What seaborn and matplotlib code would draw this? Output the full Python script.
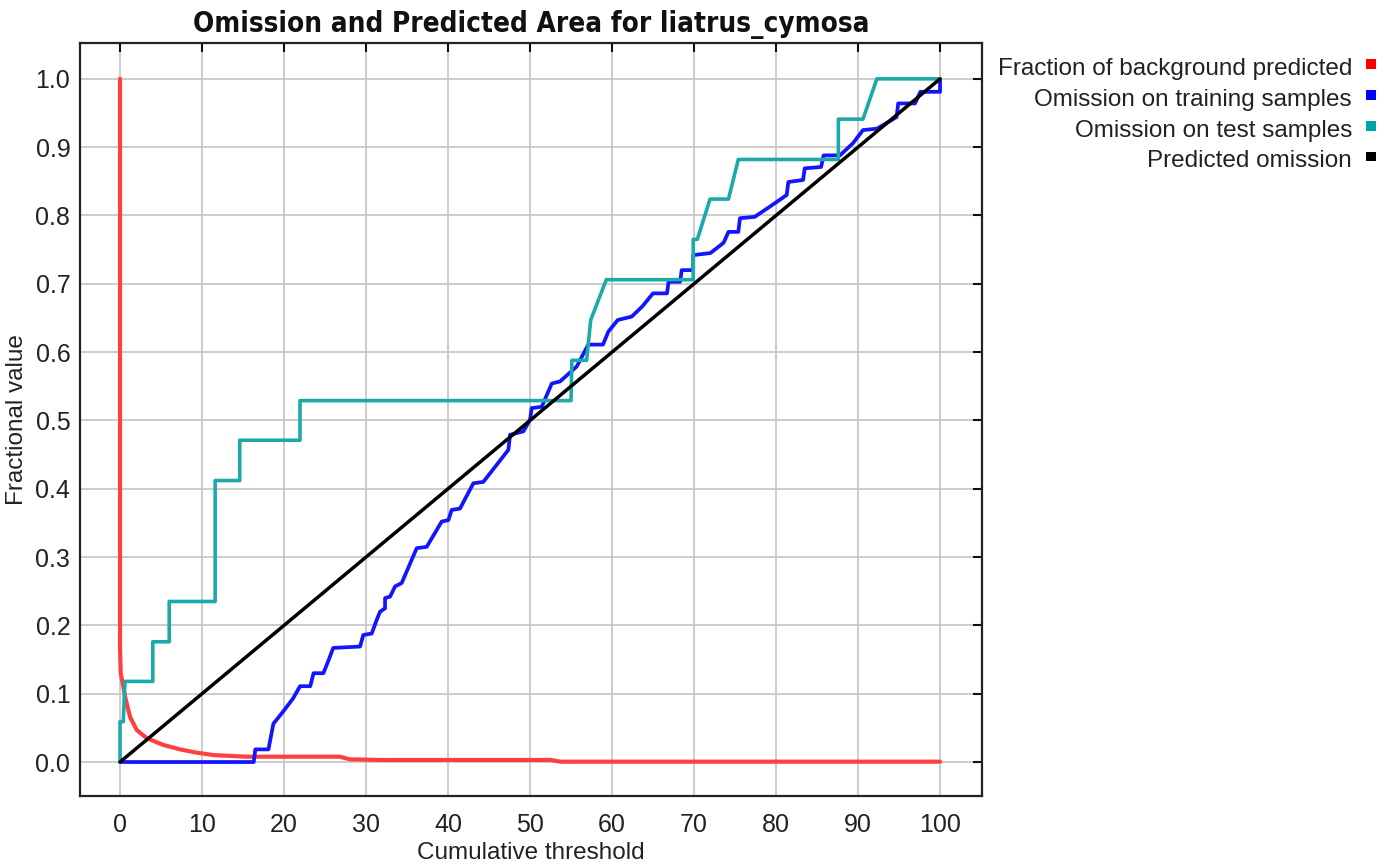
import numpy as np
import pandas as pd
import seaborn as sns
import matplotlib
matplotlib.use("Agg")
import matplotlib.pyplot as plt
from matplotlib.patches import Rectangle

# ---- data -------------------------------------------------------------
species = "liatrus_cymosa"

# fraction of background predicted (red)
bg_x = [0.0, 0.0, 0.08, 0.33, 0.61, 1.22, 2.03, 3.25, 5.28, 7.32, 9.35, 11.38,
        15.45, 26.8, 28.0, 31.7, 52.5, 53.7, 100.0]
bg_y = [1.0, 0.169, 0.130, 0.115, 0.096, 0.066, 0.047, 0.035, 0.025, 0.0185,
        0.0137, 0.0102, 0.0078, 0.0078, 0.004, 0.003, 0.003, 0.0005, 0.0005]

# omission on training samples (blue)
train_x = [0.0, 16.3, 16.5, 18.1, 18.7, 19.9, 21.1, 21.95, 23.2, 23.6, 24.8,
           25.4, 26.0, 29.27, 29.67, 30.69, 31.30, 31.71, 32.32, 32.32, 32.93,
           33.54, 34.35, 36.18, 37.40, 39.23, 40.04, 40.45, 41.46, 43.09,
           44.30, 45.93, 47.36, 47.56, 49.19, 50.0, 50.2, 51.43, 52.65, 53.66,
           55.7, 57.1, 58.9, 59.55, 60.7, 62.4, 63.7, 65.0, 66.7, 66.9, 68.3,
           68.5, 69.9, 69.9, 72.0, 73.6, 74.2, 75.4, 75.6, 77.4, 79.5, 81.3,
           81.5, 83.3, 83.5, 85.5, 85.8, 87.8, 89.4, 90.6, 92.3, 94.7, 94.9,
           96.95, 97.6, 100.0, 100.0]
train_y = [0.0, 0.0, 0.0185, 0.0185, 0.056, 0.074, 0.093, 0.111, 0.111, 0.130,
           0.130, 0.148, 0.167, 0.169, 0.186, 0.188, 0.208, 0.220, 0.225,
           0.240, 0.242, 0.257, 0.262, 0.313, 0.315, 0.352, 0.354, 0.369,
           0.371, 0.408, 0.410, 0.435, 0.457, 0.479, 0.484, 0.501, 0.518,
           0.520, 0.554, 0.557, 0.579, 0.611, 0.611, 0.630, 0.647, 0.652,
           0.667, 0.686, 0.686, 0.703, 0.703, 0.720, 0.720, 0.742, 0.745,
           0.760, 0.776, 0.776, 0.796, 0.798, 0.815, 0.830, 0.849, 0.852,
           0.869, 0.871, 0.888, 0.888, 0.906, 0.925, 0.927, 0.944, 0.964,
           0.964, 0.981, 0.981, 1.0]

# omission on test samples (teal)
test_x = [0.0, 0.0, 0.4, 0.6, 4.0, 4.0, 6.0, 6.0, 11.6, 11.6, 14.6, 14.6,
          21.95, 21.95, 55.0, 55.1, 56.9, 57.4, 59.3, 69.9, 69.9, 70.4, 71.95,
          74.2, 75.4, 87.6, 87.6, 90.6, 92.3, 100.0]
test_y = [0.0, 0.059, 0.059, 0.118, 0.118, 0.176, 0.176, 0.235, 0.235, 0.412,
          0.412, 0.471, 0.471, 0.529, 0.529, 0.588, 0.588, 0.647, 0.706,
          0.706, 0.765, 0.765, 0.824, 0.824, 0.882, 0.882, 0.941, 0.941,
          1.0, 1.0]

# predicted omission (black)
pred_x = [0.0, 100.0]
pred_y = [0.0, 1.0]

series_names = ["Fraction of background predicted",
                "Omission on training samples",
                "Omission on test samples",
                "Predicted omission"]
series_colors = ["#ff4040", "#1414ff", "#1ca9a9", "#000000"]
series_widths = [3.0, 2.7, 2.6, 2.5]
legend_colors = ["#ff0000", "#0000ff", "#00a5a5", "#000000"]

x_ticks = list(range(0, 101, 10))
y_ticks = [round(0.1 * i, 1) for i in range(11)]

# ---- figure -----------------------------------------------------------
sns.set_style("white")
plt.rcParams["font.family"] = ["Liberation Sans", "DejaVu Sans"]

fig = plt.figure(figsize=(13.89, 8.68), dpi=100)
ax = fig.add_axes([0.0576, 0.0829, 0.6494, 0.8672])

ax.grid(True, color="#c4c4c4", linewidth=1.2, zorder=0)
ax.set_axisbelow(True)

curves = [(bg_x, bg_y), (train_x, train_y), (test_x, test_y), (pred_x, pred_y)]
draw_order = [3, 0, 2, 1]
for i in draw_order:
    xs, ys = curves[i]
    df = pd.DataFrame({"x": xs, "y": ys})
    sns.lineplot(data=df, x="x", y="y", sort=False, estimator=None,
                 color=series_colors[i], linewidth=series_widths[i], ax=ax,
                 zorder=3 + i)

ax.set_xlim(-4.88, 105.12)
ax.set_ylim(-0.0498, 1.052)
ax.set_xticks(x_ticks)
ax.set_xticklabels([str(t) for t in x_ticks])
ax.set_yticks(y_ticks)
ax.set_yticklabels([f"{t:.1f}" for t in y_ticks])

ax.tick_params(axis="both", which="both", direction="in", length=6.5,
               width=1.5, color="#111111", labelsize=18, labelcolor="#222222",
               top=True, right=True)
ax.tick_params(axis="x", pad=12)
ax.tick_params(axis="y", pad=7)
for sp in ax.spines.values():
    sp.set_visible(True)
    sp.set_color("#222222")
    sp.set_linewidth(1.6)

ax.set_xlabel("Cumulative threshold", fontsize=17.5, color="#222222",
              labelpad=4)
ax.set_ylabel("Fractional value", fontsize=17.5, color="#222222",
              labelpad=5)
ax.set_title(f"Omission and Predicted Area for {species}",
             fontsize=20, fontweight="bold", color="#111111", pad=8,
             family="DejaVu Sans", fontstretch="condensed")

# legend: right-aligned names, colour swatch to their right
W, H = 1389.0, 868.0
row0, step = 75.0, 30.8
for k, (name, col) in enumerate(zip(series_names, legend_colors)):
    base = row0 + k * step
    fig.text(1352 / W, 1 - base / H, name, ha="right", va="baseline",
             fontsize=17.5, color="#222222")
    fig.patches.append(Rectangle((1366 / W, 1 - (base - 6) / H), 9.5 / W,
                                 9.5 / H, transform=fig.transFigure,
                                 facecolor=col, edgecolor="none"))

fig.savefig("out.png", dpi=100)
